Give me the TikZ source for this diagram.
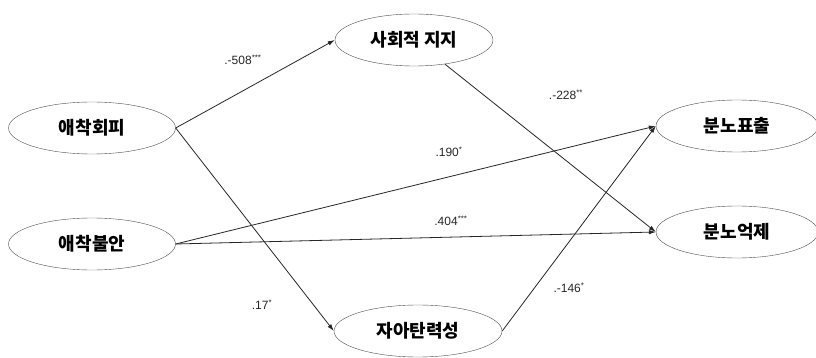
\documentclass[tikz,border=0pt]{standalone}
\usepackage{fontspec}
\setmainfont{Liberation Sans}
\newfontfamily\kofont{Noto Sans CJK KR}
\usetikzlibrary{positioning,arrows.meta,shapes.geometric}

\begin{document}
\begin{tikzpicture}[
    x=1pt, y=-1pt,
    latent/.style={draw=black!70, ellipse, minimum width=164pt, minimum height=52pt,
                   inner sep=0pt, font=\kofont\bfseries\fontsize{18}{20}\selectfont},
    ar/.style={-{Latex[length=7pt,width=4.5pt]}, draw=black!85, line width=0.8pt},
    coef/.style={font=\fontsize{12}{13}\selectfont, inner sep=1pt, text=black!85},
]
\useasboundingbox (0,0) rectangle (816,358);

% Predictors (left), mediators (middle), outcomes (right).
\node[latent, minimum width=167pt] (avoid)   at (92,128)  {애착회피};
\node[latent, minimum width=167pt] (anxiety) at (92,244)  {애착불안};
\node[latent, minimum width=158pt] (support) at (414,40)  {사회적 지지};
\node[latent, minimum width=168pt] (resil)   at (418,331) {자아탄력성};
\node[latent, minimum width=162pt] (angout)  at (737,126) {분노표출};
\node[latent, minimum width=162pt] (angin)   at (737,232) {분노억제};

% Paths.
\draw[ar] (avoid.east) -- (support.west);
\draw[ar] (avoid.east) -- (resil.west);
\draw[ar] (anxiety.east) -- (angout.west);
\draw[ar] (anxiety.east) -- (angin.west);
\draw[ar] (support.-38) -- (angin.west);
\draw[ar] (resil.east) -- (angout.west);

% Path coefficients.
\node[coef] (c_avsup) at (243,60)  {.-508\textsuperscript{***}};
\node[coef] (c_supin) at (566,95)  {.-228\textsuperscript{**}};
\node[coef] (c_anout) at (449,152) {.190\textsuperscript{*}};
\node[coef] (c_anin)  at (451,221) {.404\textsuperscript{***}};
\node[coef] (c_avres) at (262,305) {.17\textsuperscript{*}};
\node[coef] (c_resou) at (569,288) {.-146\textsuperscript{*}};
\end{tikzpicture}
\end{document}
